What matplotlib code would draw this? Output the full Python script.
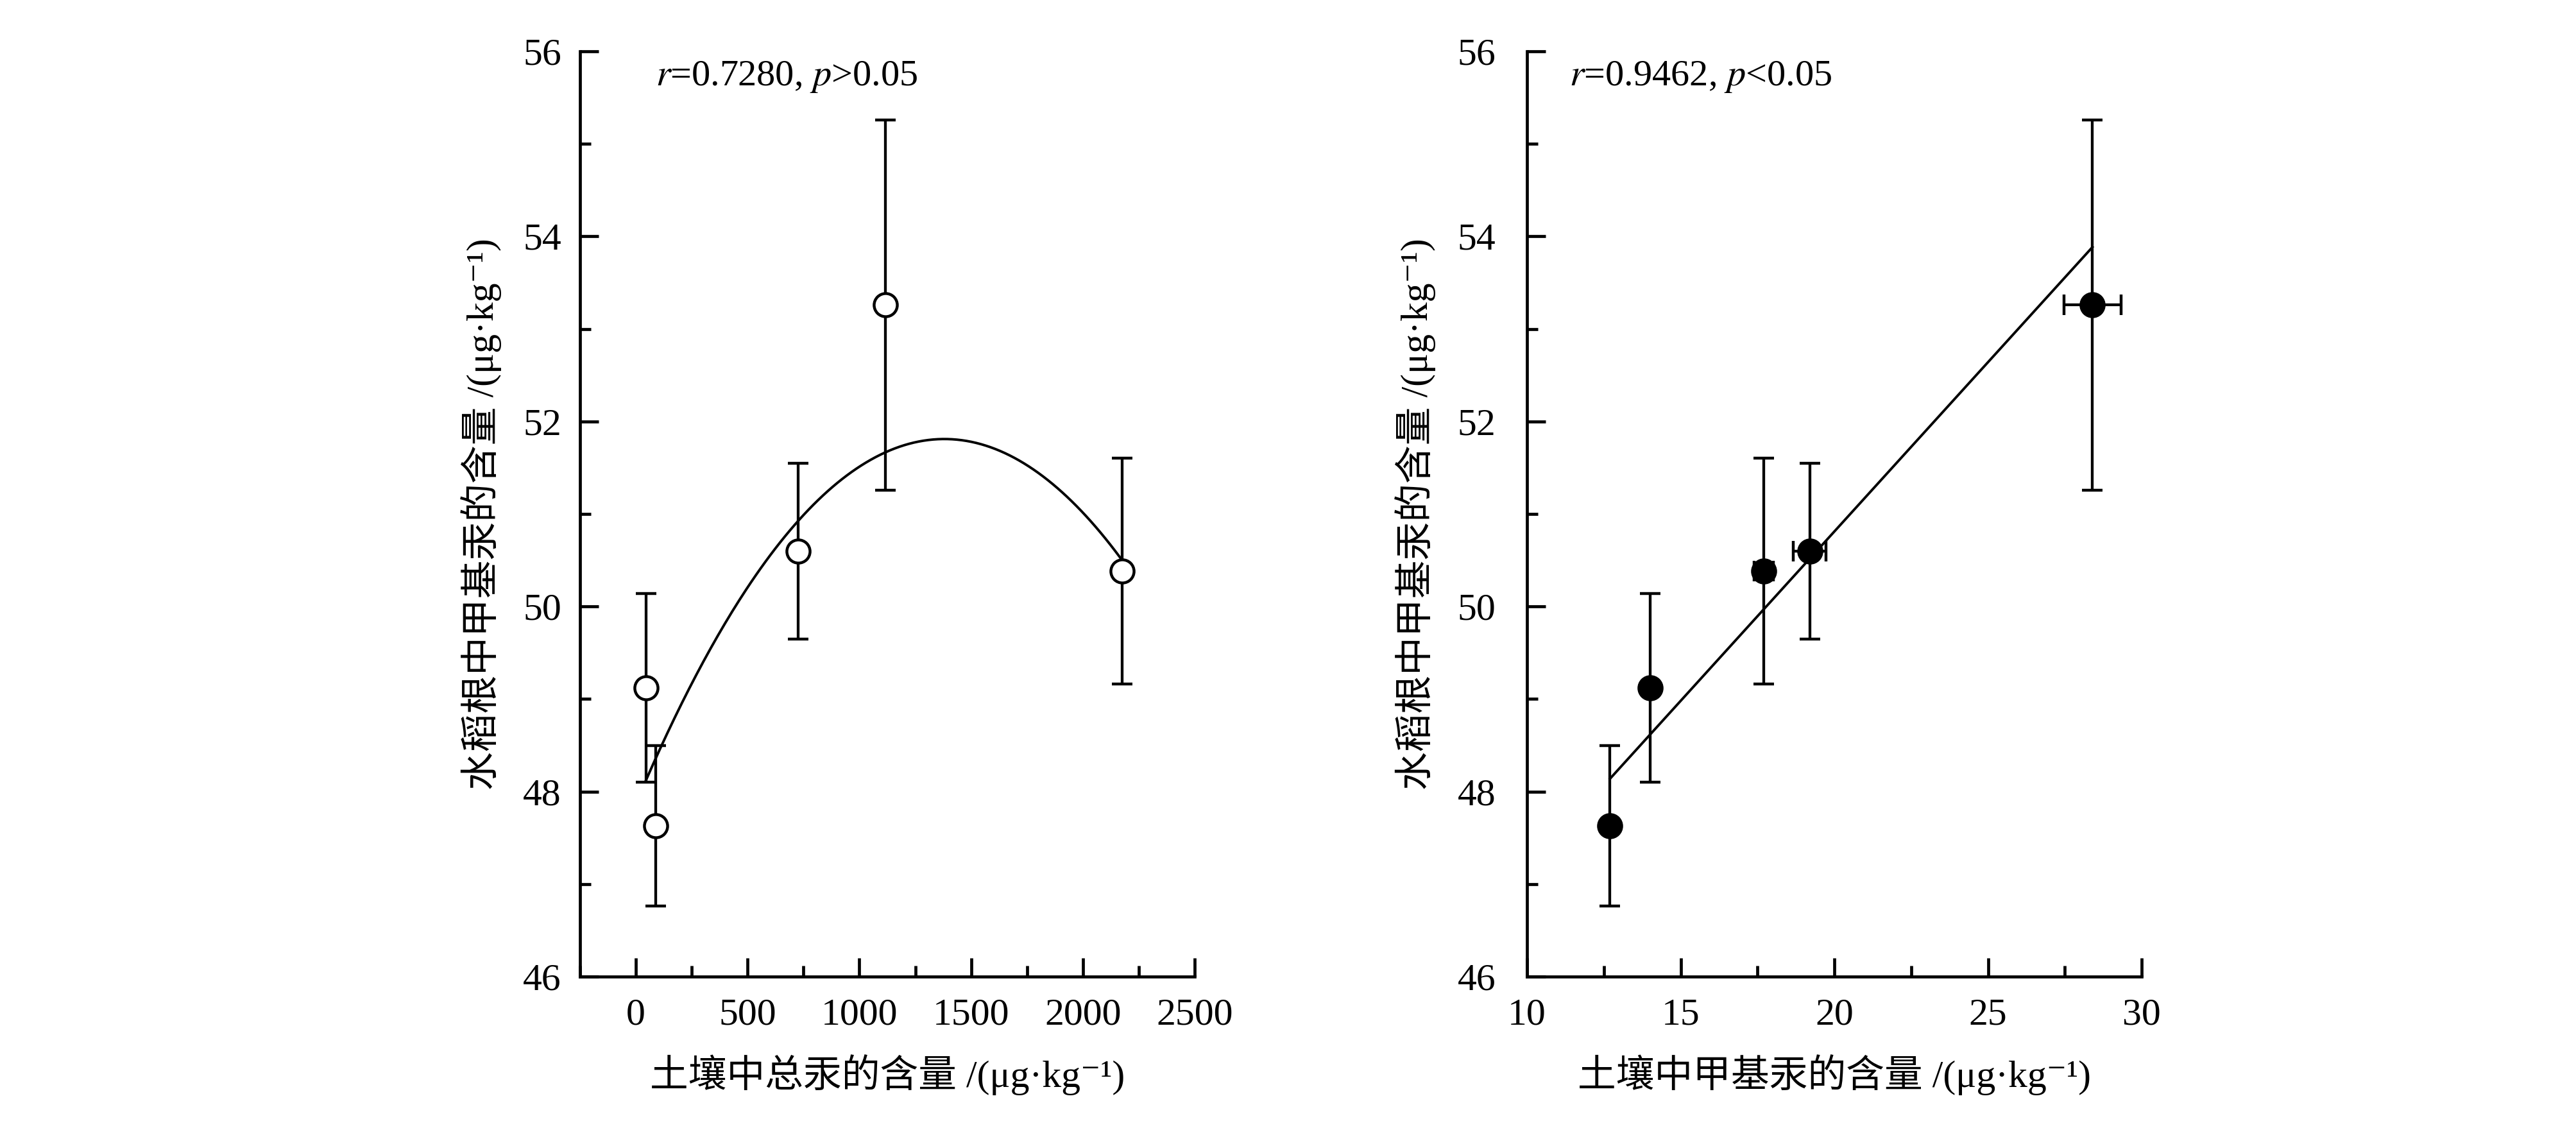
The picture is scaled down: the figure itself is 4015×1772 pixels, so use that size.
import numpy as np
import matplotlib
matplotlib.use("Agg")
import matplotlib.pyplot as plt
from matplotlib.ticker import MultipleLocator

# root MeHg content (shared y values)
root_mehg = [49.12, 47.63, 50.60, 53.26, 50.38]
root_err = [1.02, 0.87, 0.95, 2.00, 1.22]

# soil total Hg
soil_thg = [45, 88, 727, 1117, 2175]

# soil MeHg (same samples, order matches root_mehg)
soil_mehg = [14.0, 12.7, 19.2, 28.4, 17.7]
soil_mehg_err = [0.0, 0.0, 0.53, 0.93, 0.32]

# fitted curves
quad_coef = [-2.07e-6, 0.005713, 47.868]
lin_coef = [0.366, 43.49]

left_note = "$r$=0.7280, $p$>0.05"
right_note = "$r$=0.9462, $p$<0.05"
xlabel_left = "土壤中总汞的含量 /(μg·kg⁻¹)"
xlabel_right = "土壤中甲基汞的含量 /(μg·kg⁻¹)"
ylabel = "水稻根中甲基汞的含量 /(μg·kg⁻¹)"

plt.rcParams['font.family'] = ['Liberation Serif', 'Noto Sans CJK SC', 'DejaVu Sans']
plt.rcParams['mathtext.fontset'] = 'stix'
LW = 1.7
plt.rcParams['axes.linewidth'] = LW

fig = plt.figure(figsize=(20.08, 8.86), dpi=200)
ax1 = fig.add_axes([904/4016, 1-1522/1772, 958/4016, 1442/1772])
ax2 = fig.add_axes([2380/4016, 1-1522/1772, 958/4016, 1442/1772])


def style(ax, xmaj, xmin, ypad):
    ax.spines['top'].set_visible(False)
    ax.spines['right'].set_visible(False)
    ax.set_ylim(46, 56)
    ax.yaxis.set_major_locator(MultipleLocator(2))
    ax.yaxis.set_minor_locator(MultipleLocator(1))
    ax.xaxis.set_major_locator(MultipleLocator(xmaj))
    ax.xaxis.set_minor_locator(MultipleLocator(xmin))
    ax.tick_params(which='both', direction='in', width=LW, labelsize=21.5)
    ax.tick_params(axis='x', which='both', pad=12)
    ax.tick_params(axis='y', which='both', pad=ypad)
    ax.tick_params(which='major', length=10.5)
    ax.tick_params(which='minor', length=6)
    ax.set_ylabel(ylabel, fontsize=21.5, labelpad=12)


# left: total Hg
ax1.errorbar(soil_thg, root_mehg, yerr=root_err, fmt='o', color='black',
             mfc='white', mec='black', ms=13, mew=1.6, elinewidth=1.55,
             capsize=5.6, capthick=1.55, zorder=3)
xs = np.linspace(min(soil_thg), max(soil_thg), 200)
ax1.plot(xs, np.polyval(quad_coef, xs), color='black', lw=1.4, zorder=2)
ax1.set_xlim(-250, 2500)
style(ax1, 500, 250, 10.5)
ax1.set_xlabel(xlabel_left, fontsize=21.5, labelpad=12)
ax1.text(0.123, 0.972, left_note, transform=ax1.transAxes, fontsize=21,
         ha='left', va='center')

# right: MeHg
ax2.errorbar(soil_mehg, root_mehg, yerr=root_err, xerr=soil_mehg_err, fmt='o',
             color='black', mfc='black', mec='black', ms=13, mew=1.6,
             elinewidth=1.55, capsize=5.6, capthick=1.55, zorder=3)
xl = np.array([min(soil_mehg), max(soil_mehg)])
ax2.plot(xl, np.polyval(lin_coef, xl), color='black', lw=1.4, zorder=2)
ax2.set_xlim(10, 30)
style(ax2, 5, 2.5, 17.5)
ax2.set_xlabel(xlabel_right, fontsize=21.5, labelpad=12)
ax2.text(0.069, 0.972, right_note, transform=ax2.transAxes, fontsize=21,
         ha='left', va='center')

fig.savefig("out.png", dpi=200)
